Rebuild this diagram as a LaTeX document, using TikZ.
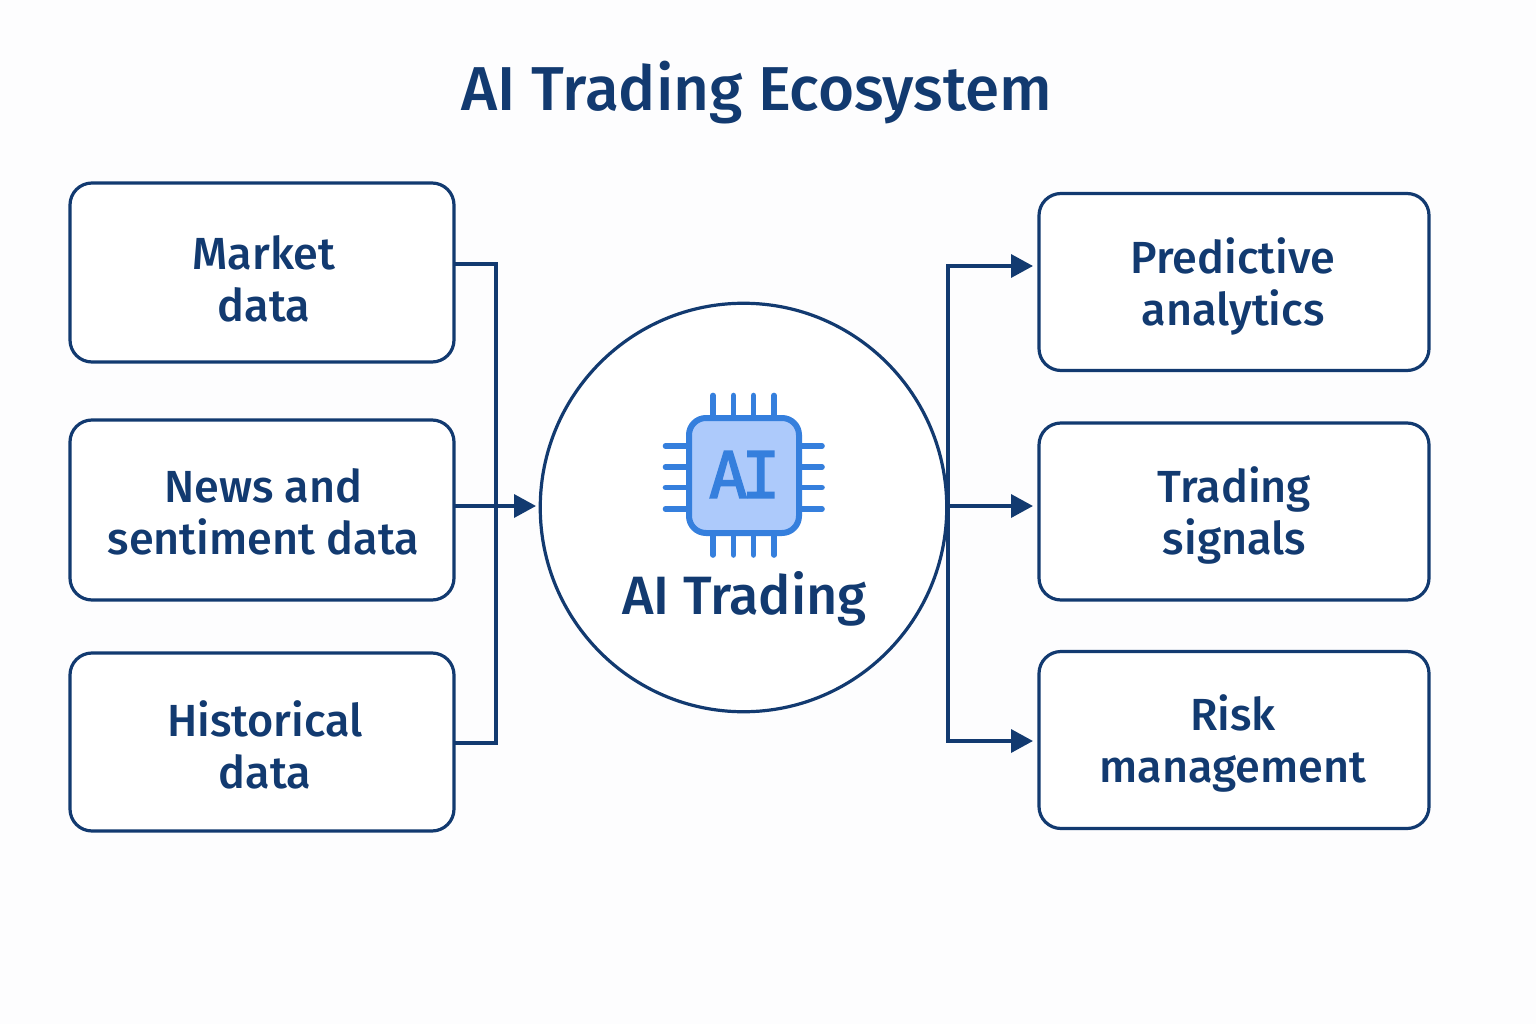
\documentclass[tikz,border=0pt]{standalone}
\usepackage{fontspec}
\setmainfont{Fira Sans Medium}
\newfontfamily\chipfont[FakeBold=2.4]{DejaVu Sans Mono}
\usetikzlibrary{arrows.meta,shapes.geometric}
\definecolor{navy}{HTML}{123A70}
\definecolor{chipblue}{HTML}{357FDD}
\definecolor{chipfill}{HTML}{ADCAFB}
\definecolor{pagebg}{HTML}{FDFDFE}
\tikzset{
  x=1pt,y=-1pt,
  card/.style={draw=navy,line width=3.2pt,rounded corners=22pt,fill=white,inner sep=0pt,outer sep=0pt,anchor=north west},
  cardtext/.style={text=navy,font=\fontsize{45}{52.5}\selectfont,align=center,inner sep=0pt},
  link/.style={draw=navy,line width=3.6pt},
  flow/.style={link,-{Triangle[length=22pt,width=23pt]},shorten >=0pt},
  pin/.style={draw=chipblue,line width=5.6pt,line cap=round},
}
\begin{document}
\begin{tikzpicture}
\useasboundingbox[fill=pagebg] (0,0) rectangle (1536,1024);
\node[text=navy,font=\fontsize{62}{66}\selectfont,inner sep=0pt] (title) at (757,92.5) {AI Trading Ecosystem};
% source cards
\node[card,minimum width=384pt,minimum height=179pt] (market) at (70,183) {};
\node[card,minimum width=384pt,minimum height=180pt] (news) at (70,420) {};
\node[card,minimum width=384pt,minimum height=178pt] (hist) at (70,653) {};
\node[cardtext] (markett) at (264,279) {Market\\data};
\node[cardtext] (newst) at (263.5,512) {News and\\sentiment data};
\node[cardtext] (histt) at (265,745) {Historical\\data};
% result cards
\node[card,minimum width=390pt,minimum height=177pt] (pred) at (1039,193.5) {};
\node[card,minimum width=390pt,minimum height=177pt] (sig) at (1039,423) {};
\node[card,minimum width=390pt,minimum height=177pt] (risk) at (1039,651.5) {};
\node[cardtext] (predt) at (1233,286.5) {Predictive\\analytics};
\node[cardtext] (sigt) at (1234.5,515.5) {Trading\\signals};
\node[cardtext] (riskt) at (1233,743.5) {Risk\\management};
% hub
\node[ellipse,draw=navy,line width=3.2pt,fill=white,minimum width=406.5pt,minimum height=408.5pt,inner sep=0pt,outer sep=0pt] (hub) at (743.5,507.5) {};
% connectors
\coordinate (mo) at (454,264);
\coordinate (no) at (454,506);
\coordinate (ho) at (454,743);
\coordinate (bl) at (496,506);
\coordinate (hin) at (536,506);
\coordinate (hout) at (948,506);
\coordinate (pi) at (1033,266);
\coordinate (si) at (1033,506);
\coordinate (ri) at (1033,741);
\draw[link,line join=miter] (mo) -| (bl) |- (ho);
\draw[flow] (no) -- (hin);
\draw[flow] (hout) |- (pi);
\draw[flow] (hout) -- (si);
\draw[flow] (hout) |- (ri);
% chip icon
\foreach \p in {713,733.5,753.5,774}{
  \draw[pin] (\p,395.5) -- (\p,417);
  \draw[pin] (\p,534) -- (\p,555);
}
\foreach \p in {446,467,487.5,509}{
  \draw[pin] (665.5,\p) -- (688,\p);
  \draw[pin] (800,\p) -- (822,\p);
}
\draw[draw=chipblue,fill=chipfill,line width=6pt,rounded corners=17pt] (689,418) rectangle (799,533);
\node[text=chipblue,font=\chipfont\fontsize{64}{64}\selectfont,inner sep=0pt] (chipt) at (744.5,474.5) {A\kern-6pt I};
\node[text=navy,font=\fontsize{54}{60}\selectfont,inner sep=0pt] (hubt) at (744.5,599) {AI Trading};
\end{tikzpicture}
\end{document}
